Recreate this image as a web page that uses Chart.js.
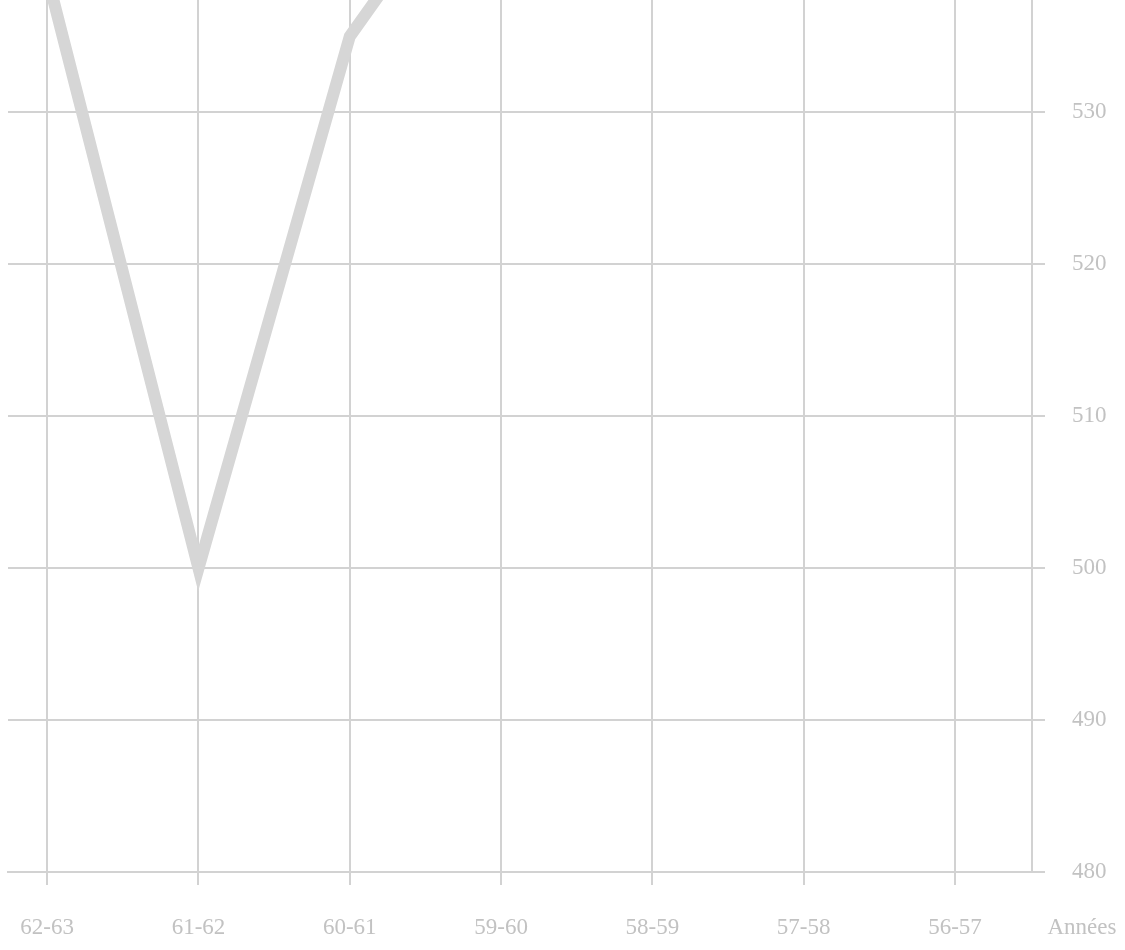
<!DOCTYPE html>
<html lang="fr">
  <head>
    <meta charset="UTF-8" />
    <title>Années</title>
    <script src="https://cdn.jsdelivr.net/npm/chart.js@4.4.0/dist/chart.umd.min.js"></script>
    <style>
      body { margin: 0; background: #fff; }
      canvas { display: block; }
    </style>
  </head>
  <body>
    <canvas id="chart" width="1125" height="950"></canvas>
    <script>
      // campaign years, oldest first (drawn right to left as in the scan)
      const years = ['56-57', '57-58', '58-59', '59-60', '60-61', '61-62', '62-63']
      // values above the top edge are only partly visible
      const values = [null, null, null, 549, 535, 500, 539]
      const yTicks = [480, 490, 500, 510, 520, 530]
      const axisTitle = 'Années'

      const gridColor = '#d2d2d2'
      const textColor = '#c2c2c2'
      const font = { family: 'Liberation Serif', size: 23 }

      const titlePlugin = {
        id: 'axisTitle',
        afterDraw(chart) {
          const c = chart.ctx
          c.save()
          c.fillStyle = textColor
          c.font = '23px "Liberation Serif"'
          c.textAlign = 'center'
          c.textBaseline = 'middle'
          c.fillText(axisTitle, 1082, 928)
          c.restore()
        },
      }

      const ctx = document.getElementById('chart')
      const myChart = new Chart(ctx, {
        type: 'line',
        data: {
          datasets: [
            {
              data: values.map((v, i) => ({ x: i, y: v })),
              borderColor: '#d6d6d6',
              borderWidth: 12,
              pointRadius: 0,
              tension: 0,
              spanGaps: false,
            },
          ],
        },
        plugins: [titlePlugin],
        options: {
          responsive: false,
          animation: false,
          layout: { padding: { left: 8, top: 0, right: 0, bottom: 0 } },
          plugins: { legend: { display: false }, tooltip: { enabled: false } },
          scales: {
            x: {
              type: 'linear',
              reverse: true,
              min: -0.509,
              max: 6.259,
              afterBuildTicks: (s) => { s.ticks = years.map((_, i) => ({ value: i })) },
              afterFit: (s) => {
                s.height = 78
                s.paddingLeft = 0
                s.paddingRight = 0
              },
              grid: { color: gridColor, lineWidth: 2, tickLength: 13 },
              border: { color: gridColor, width: 2 },
              ticks: {
                color: textColor,
                font: font,
                padding: 29,
                maxRotation: 0,
                callback: (v) => years[v],
              },
            },
            y: {
              position: 'right',
              min: 480,
              max: 537.4,
              afterBuildTicks: (s) => { s.ticks = yTicks.map((v) => ({ value: v })) },
              afterFit: (s) => {
                s.width = 93
                s.paddingTop = 0
                s.paddingBottom = 0
              },
              grid: { color: gridColor, lineWidth: 2, tickLength: 13 },
              border: { color: gridColor, width: 2 },
              ticks: { color: textColor, font: font, padding: 27 },
            },
          },
        },
      })
    </script>
  </body>
</html>
